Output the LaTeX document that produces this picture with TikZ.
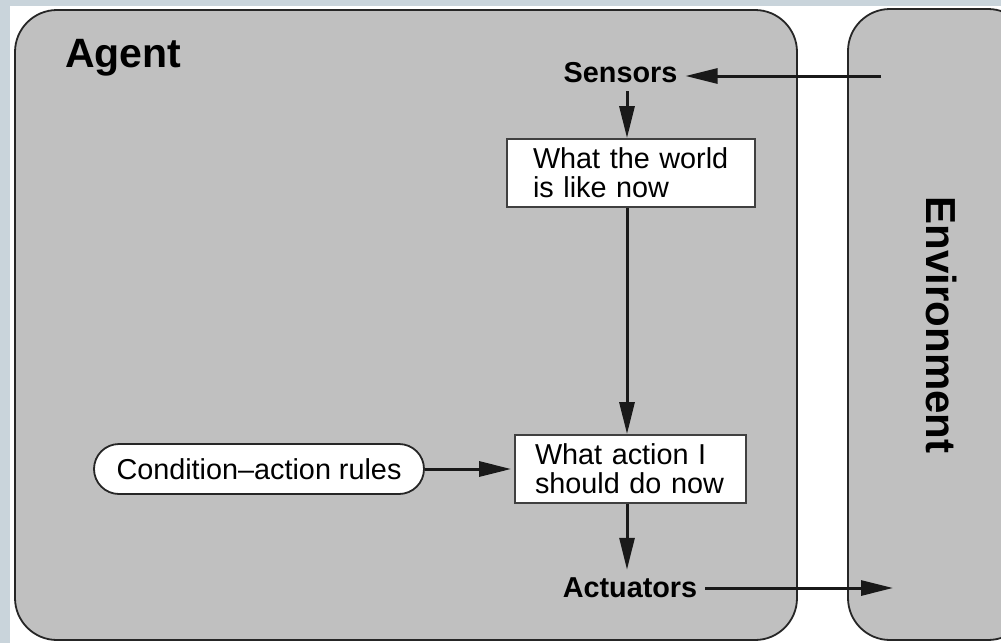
\documentclass[tikz,border=0pt]{standalone}
\usepackage{fontspec}
\setmainfont{Liberation Sans}
\usetikzlibrary{arrows.meta}
\definecolor{bgblue}{HTML}{C9D4DB}
\definecolor{panel}{HTML}{C0C0C0}
\begin{document}
\begin{tikzpicture}[x=1pt,y=-1pt,
  panelbox/.style={draw=black!85, line width=1.8pt, fill=panel, rounded corners=42pt},
  infobox/.style={draw=black!75, line width=1.8pt, fill=white, align=left,
    inner ysep=4pt, font=\fontsize{28.8}{29}\selectfont, minimum height=68pt},
  rulebox/.style={draw=black!85, line width=1.8pt, fill=white, rounded corners=25pt,
    minimum width=330pt, minimum height=50pt, inner sep=0pt, font=\fontsize{28.8}{29}\selectfont},
  lbl/.style={font=\bfseries\fontsize{28.8}{29}\selectfont, inner sep=8pt},
  arr/.style={line width=3pt, draw=black!90, -{Triangle[length=32pt,width=15pt]}}
]
\fill[bgblue] (0,0) rectangle (1001,643);
\fill[white] (10,6) rectangle (1001,643);
\useasboundingbox (0,0) rectangle (1001,643);
\path[panelbox] (15,10) rectangle (797,640);
\begin{scope}
  \clip (0,0) rectangle (1001,643);
  \path[panelbox] (848,9) rectangle (1030,640);
\end{scope}
\node[anchor=base west, inner sep=0pt, font=\bfseries\fontsize{41}{41}\selectfont] (agent) at (65,67) {Agent};
\node[rotate=-90, inner sep=0pt, font=\bfseries\fontsize{42}{42}\selectfont] (env) at (941,325) {Environment};
\node[lbl] (sensors) at (620.5,73) {Sensors};
\node[infobox, text width=196pt, inner xsep=26pt] (box1) at (631,173) {What the world\\is like now};
\node[infobox, text width=191pt, inner xsep=20pt] (box2) at (630.5,469) {What action I\\should do now};
\node[rulebox] (rules) at (259,469) {Condition--action rules};
\node[lbl] (actuators) at (630,588) {Actuators};
\coordinate (spine) at (627,0);
\coordinate (envin) at (881,76);
\coordinate (envout) at (893,589);
\draw[arr] (envin) -- (envin -| sensors.east);
\draw[arr] (sensors.south -| spine) -- (box1.north -| spine);
\draw[arr] (box1.south -| spine) -- (box2.north -| spine);
\draw[arr] (box2.south -| spine) -- (actuators.north -| spine);
\draw[arr, shorten >=3pt] (rules.east) -- (rules.east -| box2.west);
\draw[arr] (actuators.east) -- (actuators.east -| envout);
\end{tikzpicture}
\end{document}
